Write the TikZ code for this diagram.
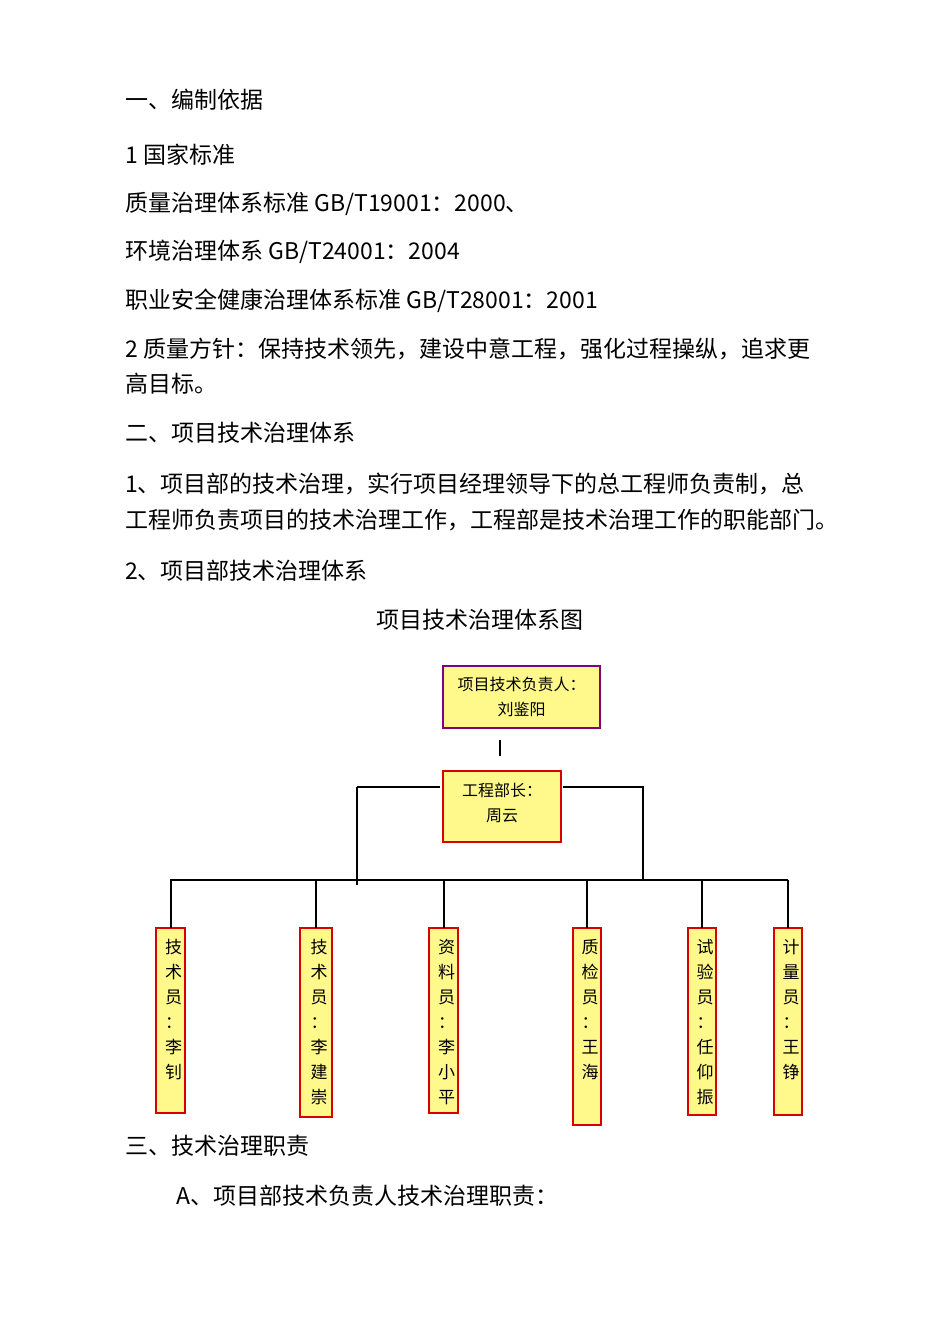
\documentclass[tikz,border=0pt]{standalone}
\usepackage{fontspec}
\setmainfont{Noto Sans CJK SC}
\begin{document}
\begin{tikzpicture}[x=1pt,y=-1pt,
  txt/.style={anchor=west,inner sep=0pt,font=\fontsize{23}{27}\selectfont},
  bx/.style={draw=red!85!black,fill=yellow!45,line width=1.2pt,inner sep=0pt},
  vt/.style={font=\fontsize{17}{25}\selectfont,align=center,inner sep=0pt,anchor=north},
  ln/.style={line width=2pt}]
\useasboundingbox[fill=white] (0,0) rectangle (950,1344);
\node[txt] (t1) at (125,100) {一、编制依据};
\node[txt] (t2) at (125,155) {1 国家标准};
\node[txt] (t3) at (125,204) {质量治理体系标准 GB/T19001：2000、};
\node[txt] (t4) at (125,252) {环境治理体系 GB/T24001：2004};
\node[txt] (t5) at (125,301) {职业安全健康治理体系标准 GB/T28001：2001};
\node[txt] (t6) at (125,349) {2 质量方针：保持技术领先，建设中意工程，强化过程操纵，追求更};
\node[txt] (t7) at (125,384) {高目标。};
\node[txt] (t8) at (125,433) {二、项目技术治理体系};
\node[txt] (t9) at (125,484) {1、项目部的技术治理，实行项目经理领导下的总工程师负责制，总};
\node[txt] (t10) at (125,520) {工程师负责项目的技术治理工作，工程部是技术治理工作的职能部门。};
\node[txt] (t11) at (125,571) {2、项目部技术治理体系};
\node[txt,anchor=center] (t12) at (480,620) {项目技术治理体系图};
\node[txt] (t13) at (125,1146) {三、技术治理职责};
\node[txt] (t14) at (176,1196) {A、项目部技术负责人技术治理职责：};
% chart
\draw[bx,draw=violet] (443,666) rectangle (600,728);
\node[font=\fontsize{16}{25}\selectfont,align=center] (top) at (521.5,697) {项目技术负责人：\\刘鉴阳};
\draw[bx] (443,771) rectangle (561,842);
\node[font=\fontsize{16}{25}\selectfont,align=center] (mid) at (502,803) {工程部长：\\周云};
\coordinate (a1) at (500,740); \coordinate (a2) at (500,756);
\draw[ln] (a1) -- (a2);
\coordinate (l1) at (440,787); \coordinate (l2) at (357,787); \coordinate (l3) at (357,885);
\coordinate (r1) at (563,787); \coordinate (r2) at (643,787); \coordinate (r3) at (643,880);
\draw[ln] (l1) -- (l2); \draw[ln] (l2) -- (l3);
\draw[ln] (r1) -- (r2) -- (r3);
\coordinate (b1) at (170,880); \coordinate (b2) at (788,880);
\draw[ln] (b1) -- (b2);
\foreach \i/\xl/\xr/\yb/\t in {1/156/185/1113/{技\\术\\员\\：\\李\\钊},
  2/300/332/1117/{技\\术\\员\\：\\李\\建\\崇},
  3/429/458/1113/{资\\料\\员\\：\\李\\小\\平},
  4/573/601/1125/{质\\检\\员\\：\\王\\海},
  5/688/716/1115/{试\\验\\员\\：\\任\\仰\\振},
  6/774/802/1115/{计\\量\\员\\：\\王\\铮}}{
  \draw[bx] (\xl,928) rectangle (\xr,\yb);
  \node[vt] (s\i) at ({(\xl+\xr)/2+3},939) {\t};
  \coordinate (c\i) at ({(\xl+\xr)/2},880);
  \draw[ln] (c\i) -- ({(\xl+\xr)/2},928);
}
\end{tikzpicture}
\end{document}
